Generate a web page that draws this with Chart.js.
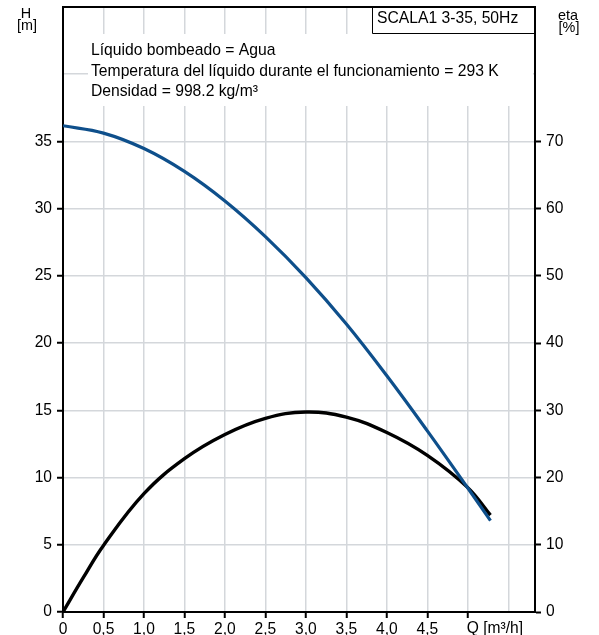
<!DOCTYPE html>
<html>
<head>
<meta charset="utf-8">
<script src="https://cdn.jsdelivr.net/npm/chart.js@4.4.1/dist/chart.umd.min.js"></script>
<style>
  body { margin: 0; background: #fff; }
  canvas { display: block; }
</style>
</head>
<body>
<canvas id="pump-chart" width="599" height="635"></canvas>
<script>
// Pump curve data

var headFlow = [0, 0.5, 1.0, 1.5, 2.0, 2.5, 3.0, 3.5, 4.0, 4.5, 5.0, 5.28];
var headValues = [36.17, 35.62, 34.47, 32.77, 30.57, 27.92, 24.87, 21.42, 17.57, 13.47, 9.22, 6.8];

var etaFlow = [0, 0.25, 0.5, 1.0, 1.5, 2.0, 2.5, 3.0, 3.5, 4.0, 4.5, 5.0, 5.28];
var etaValues = [0, 5.1, 9.9, 17.6, 22.8, 26.4, 28.8, 29.75, 29.0, 26.7, 23.3, 18.5, 14.4];

var xTickValues = [0, 0.5, 1.0, 1.5, 2.0, 2.5, 3.0, 3.5, 4.0, 4.5, 5.0, 5.5];
var xTickLabels = ['0', '0,5', '1,0', '1,5', '2,0', '2,5', '3,0', '3,5', '4,0', '4,5', '', ''];
var flowTitle = 'Q [m\u00b3/h]';
var flowTitleAt = 5.0;
var headTicks = [0, 5, 10, 15, 20, 25, 30, 35, 40, 45];
var etaTicks = [0, 10, 20, 30, 40, 50, 60, 70, 80, 90];

var infoLines = [
    'L\u00edquido bombeado = Agua',
    'Temperatura del l\u00edquido durante el funcionamiento = 293 K',
    'Densidad = 998.2 kg/m\u00b3'
];
var pumpName = 'SCALA1 3-35, 50Hz';

var FONT = { family: "'Liberation Sans', Arial, sans-serif", size: 15.6 };
var TEXT_SIZE = 15.7;
var GRID = '#d4d7db';

function toPoints(xs, ys) {
    return xs.map(function (x, i) { return { x: x, y: ys[i] }; });
}

function fixedTicks(values) {
    return function (scale) {
        scale.ticks = values.map(function (v) { return { value: v }; });
    };
}

function hideAbove(limit) {
    return function (ctx) {
        return ctx.tick && ctx.tick.value > limit ? 'rgba(0,0,0,0)' : '#000';
    };
}

function noPadding(scale) {
    scale.paddingTop = 0;
    scale.paddingBottom = 0;
    scale.paddingLeft = 0;
    scale.paddingRight = 0;
}

// Frame, info box, pump name and axis titles

var decorations = {
    id: 'decorations',
    afterDraw: function (chart) {
        var ctx = chart.ctx;
        var area = chart.chartArea;
        var xScale = chart.scales.x;
        ctx.save();

        // top border
        ctx.strokeStyle = '#000';
        ctx.lineWidth = 2;
        ctx.beginPath();
        ctx.moveTo(area.left - 1, area.top);
        ctx.lineTo(area.right + 1, area.top);
        ctx.stroke();

        // info text block
        ctx.fillStyle = '#fff';
        ctx.fillRect(area.left + 25, 34, area.right - area.left - 27, 72);
        ctx.fillStyle = '#000';
        ctx.font = TEXT_SIZE + 'px ' + FONT.family;
        ctx.textAlign = 'left';
        ctx.textBaseline = 'alphabetic';
        infoLines.forEach(function (line, i) {
            ctx.fillText(line, area.left + 28, 55 + i * 20.7);
        });

        // pump name box
        ctx.fillStyle = '#fff';
        ctx.fillRect(372, area.top + 1, area.right - 373, 26);
        ctx.strokeStyle = '#000';
        ctx.lineWidth = 1;
        ctx.beginPath();
        ctx.moveTo(372.5, area.top);
        ctx.lineTo(372.5, 33.5);
        ctx.lineTo(area.right, 33.5);
        ctx.stroke();
        ctx.fillStyle = '#000';
        ctx.fillText(pumpName, 377, 23);

        // flow axis title sits left-aligned on its tick
        ctx.font = FONT.size + 'px ' + FONT.family;
        ctx.textBaseline = 'top';
        ctx.fillText(flowTitle, xScale.getPixelForValue(flowTitleAt) - 1, xScale.top + 9);

        // axis titles
        ctx.textBaseline = 'alphabetic';
        ctx.font = '14.4px ' + FONT.family;
        ctx.textAlign = 'center';
        ctx.fillText('H', 26, 18);
        ctx.fillText('[m]', 27, 30);
        ctx.fillText('eta', 568, 19.5);
        ctx.fillText('[%]', 569, 31.5);

        ctx.restore();
    }
};

var config = {
    type: 'line',
    data: {
        datasets: [{
            label: 'H',
            data: toPoints(headFlow, headValues),
            yAxisID: 'y',
            borderColor: '#0e4f8b',
            borderWidth: 3.2,
            pointRadius: 0,
            tension: 0.4,
            fill: false
        }, {
            label: 'eta',
            data: toPoints(etaFlow, etaValues),
            yAxisID: 'y1',
            borderColor: '#000',
            borderWidth: 3.4,
            pointRadius: 0,
            tension: 0.4,
            fill: false
        }]
    },
    options: {
        responsive: false,
        animation: false,
        devicePixelRatio: 1,
        layout: { padding: { top: 7, left: 0, right: 0, bottom: 0 } },
        plugins: {
            legend: { display: false },
            tooltip: { enabled: false }
        },
        scales: {
            x: {
                type: 'linear',
                min: 0,
                max: 5.83,
                afterBuildTicks: fixedTicks(xTickValues),
                afterFit: function (s) { s.height = 23; noPadding(s); },
                ticks: {
                    autoSkip: false,
                    maxRotation: 0,
                    padding: 2,
                    color: '#000',
                    font: FONT,
                    callback: function (v, i) { return xTickLabels[i]; }
                },
                grid: { color: GRID, lineWidth: 1.5, tickColor: hideAbove(5.2), tickLength: 6, tickWidth: 2 },
                border: { color: '#000', width: 2 }
            },
            y: {
                position: 'left',
                min: 0,
                max: 45,
                afterBuildTicks: fixedTicks(headTicks),
                afterFit: function (s) { s.width = 63; noPadding(s); },
                ticks: {
                    padding: 5,
                    color: '#000',
                    font: FONT,
                    callback: function (v) { return v > 35 ? '' : String(v); }
                },
                grid: { color: GRID, lineWidth: 1.5, tickColor: hideAbove(35), tickLength: 6, tickWidth: 2 },
                border: { color: '#000', width: 2 }
            },
            y1: {
                position: 'right',
                min: 0,
                max: 90,
                afterBuildTicks: fixedTicks(etaTicks),
                afterFit: function (s) { s.width = 64; noPadding(s); },
                ticks: {
                    padding: 5,
                    color: '#000',
                    font: FONT,
                    callback: function (v) { return v > 70 ? '' : String(v); }
                },
                grid: { drawOnChartArea: false, tickColor: hideAbove(70), tickLength: 6, tickWidth: 2 },
                border: { color: '#000', width: 2 }
            }
        }
    },
    plugins: [decorations]
};

window.onload = function () {
    var ctx = document.getElementById('pump-chart').getContext('2d');
    window.pumpChart = new Chart(ctx, config);
};
</script>
</body>
</html>
